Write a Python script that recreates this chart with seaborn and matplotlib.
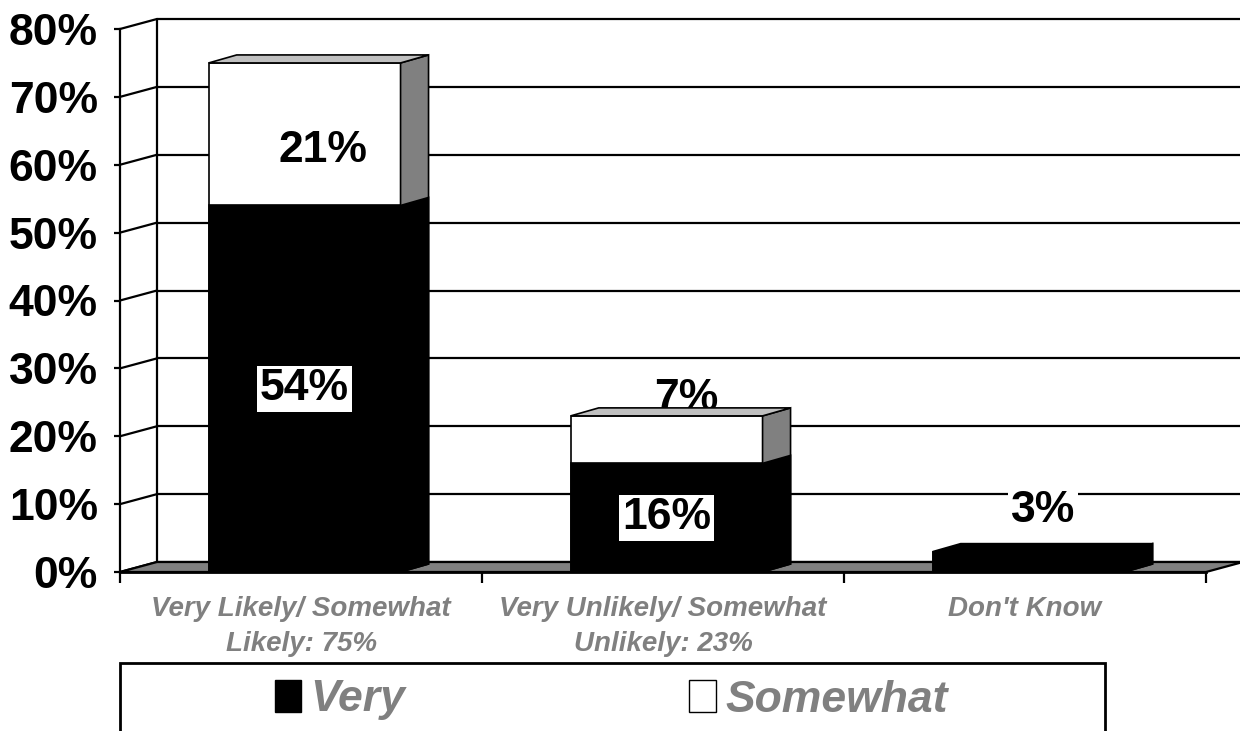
import numpy as np
import pandas as pd
import matplotlib
matplotlib.use("Agg")
import matplotlib.pyplot as plt
from matplotlib.patches import Polygon, Rectangle, Patch
import seaborn as sns

# ── Data ──────────────────────────────────────────────────────────────────────
categories = ["Very Likely/ Somewhat\nLikely: 75%",
              "Very Unlikely/ Somewhat\nUnlikely: 23%",
              "Don't Know"]
very     = [54, 16, 3]
somewhat = [21, 7, 0]
y_ticks  = [0, 10, 20, 30, 40, 50, 60, 70, 80]

df = pd.DataFrame({"category": categories, "Very": very, "Somewhat": somewhat})
df["Total"] = df["Very"] + df["Somewhat"]

sns.set_style("white")
plt.rcParams["font.family"] = ["Liberation Sans", "DejaVu Sans"]
plt.rcParams["text.color"] = "black"
plt.rcParams["xtick.color"] = "black"
plt.rcParams["ytick.color"] = "black"

GRAY  = "#808080"
LIGHT = "#c0c0c0"

# pixel geometry of the reference (1240x731)
px_x = 362.0           # px per category
px_y = 543.0 / 80      # px per percent
wall_dx, wall_dy = 37 / px_x, 10 / px_y
bar_dx,  bar_dy  = 28 / px_x, 8 / px_y

fig = plt.figure(figsize=(12.4, 7.31), dpi=100)
ax = fig.add_axes([120 / 1240, (731 - 572) / 731, 1120 / 1240, 562 / 731])

# ── Bars (front faces) ────────────────────────────────────────────────────────
sns.barplot(data=df, x="category", y="Total", color="white", saturation=1,
            edgecolor="black", linewidth=1.2, width=0.53, errorbar=None,
            ax=ax, zorder=3)
sns.barplot(data=df, x="category", y="Very", color="black", saturation=1,
            edgecolor="black", linewidth=1.2, width=0.53, errorbar=None,
            ax=ax, zorder=3)
for bar in ax.patches:
    bar.set_x(bar.get_x() + 0.01)

ax.set_xlim(-0.5, -0.5 + 1120 / px_x)
ax.set_ylim(0, 562 / px_y)
x_right = 2.5 + wall_dx + 0.05

# ── Back wall, gridlines, floor ───────────────────────────────────────────────
xl = -0.5 + wall_dx
for v in y_ticks:
    ax.plot([xl, x_right], [v + wall_dy] * 2, color="black", lw=1.6,
            zorder=1, clip_on=False)
    ax.plot([-0.5, xl], [v, v + wall_dy], color="black", lw=1.6,
            zorder=1, clip_on=False)
ax.plot([xl, xl], [wall_dy, y_ticks[-1] + wall_dy], color="black", lw=1.6,
        zorder=1, clip_on=False)
floor = [(-0.5, 0), (2.5, 0), (2.5 + wall_dx, wall_dy), (xl, wall_dy)]
ax.add_patch(Polygon(floor, closed=True, fc=GRAY, ec="black", lw=1.6,
                     zorder=1.5, clip_on=False))

# ── 3D side and top faces ─────────────────────────────────────────────────────
white_bars, black_bars = ax.containers[0], ax.containers[1]
for bars, side_col in [(white_bars, GRAY), (black_bars, "black")]:
    for bar in bars:
        x1 = bar.get_x() + bar.get_width()
        y0, y1 = bar.get_y(), bar.get_y() + bar.get_height()
        side = [(x1, y0), (x1 + bar_dx, y0 + bar_dy),
                (x1 + bar_dx, y1 + bar_dy), (x1, y1)]
        ax.add_patch(Polygon(side, closed=True, fc=side_col, ec="black",
                             lw=1.2, zorder=3))
for i, bar in enumerate(white_bars):
    x0, x1 = bar.get_x(), bar.get_x() + bar.get_width()
    y1 = bar.get_height()
    top = [(x0, y1), (x0 + bar_dx, y1 + bar_dy),
           (x1 + bar_dx, y1 + bar_dy), (x1, y1)]
    ax.add_patch(Polygon(top, closed=True,
                         fc=LIGHT if somewhat[i] > 0 else "black",
                         ec="black", lw=1.2, zorder=3))

# ── Data labels ───────────────────────────────────────────────────────────────
lab_kw = dict(ha="center", va="center", fontsize=32, fontweight="bold",
              color="black")
for i in range(len(categories)):
    v, s = very[i], somewhat[i]
    if v >= 10:
        ax.text(i + 0.01, v / 2, f"{v}%", zorder=6,
                bbox=dict(fc="white", ec="none", pad=2), **lab_kw)
    else:
        ax.text(i + 0.05, v + 6, f"{v}%", zorder=6,
                bbox=dict(fc="white", ec="none", pad=2), **lab_kw)
    if s >= 10:
        ax.text(i + 0.06, v + s / 2 - 2.4, f"{s}%", zorder=6, **lab_kw)
    elif s > 0:
        ax.text(i + 0.065, v + s + 2.6, f"{s}%", zorder=2.5, **lab_kw)

# ── Axes styling ──────────────────────────────────────────────────────────────
for side in ["top", "right"]:
    ax.spines[side].set_visible(False)
ax.spines["left"].set_bounds(0, y_ticks[-1])
ax.spines["left"].set_linewidth(1.6)
ax.spines["left"].set_color("black")
ax.spines["bottom"].set_bounds(-0.5, 2.5)
ax.spines["bottom"].set_linewidth(2)
ax.spines["bottom"].set_color("black")
ax.spines["left"].set_zorder(2)
ax.spines["bottom"].set_zorder(2)

ax.set_yticks(y_ticks)
ax.set_yticklabels([f"{v}%" for v in y_ticks], fontsize=32, fontweight="bold",
                   color="black")
ax.tick_params(axis="y", length=4, width=1.6, pad=12, left=True)

ax.set_xticks(range(len(categories)))
ax.set_xticklabels(categories, fontsize=20, fontweight="bold", style="italic",
                   color=GRAY, linespacing=1.45)
ax.set_xticks([-0.5, 0.5, 1.5, 2.5], minor=True)
ax.tick_params(axis="x", which="major", length=0, pad=17)
ax.tick_params(axis="x", which="minor", length=8, width=1.6, bottom=True)
ax.set_xlabel("")
ax.set_ylabel("")
ax.set_facecolor("none")

# ── Legend ────────────────────────────────────────────────────────────────────
handles = [Patch(fc="black", ec="black"), Patch(fc="white", ec="black")]
fig.legend(handles, ["Very", "Somewhat"], loc="center",
           bbox_to_anchor=(611 / 1240, 31 / 731), ncol=2, frameon=False,
           prop=dict(size=32, weight="bold", style="italic"),
           labelcolor=GRAY, columnspacing=6.4, handlelength=0.6,
           handleheight=0.7, handletextpad=0.2)
fig.add_artist(Rectangle((120 / 1240, -0.05), 985 / 1240, (731 - 663) / 731 + 0.05,
                         transform=fig.transFigure, fill=False, ec="black", lw=2))

plt.savefig("out.png", dpi=100)
